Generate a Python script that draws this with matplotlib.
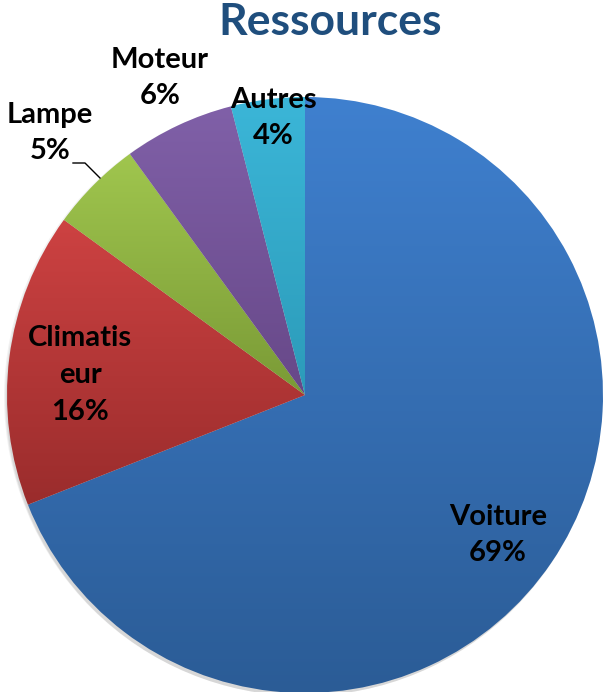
import numpy as np
import matplotlib
matplotlib.use("Agg")
import matplotlib.pyplot as plt
from matplotlib.colors import LinearSegmentedColormap

plt.rcParams['font.family'] = ['Lato', 'DejaVu Sans']

# donnees
labels = ['Voiture', 'Climatiseur', 'Lampe', 'Moteur', 'Autres']
values = [69, 16, 5, 6, 4]
label_text = ['Voiture', 'Climatis\neur', 'Lampe', 'Moteur', 'Autres']
# couleur haut / bas du degrade
top_colors = ['#3f80cf', '#cd4242', '#a0c64e', '#8060a8', '#3bb6d8']
bot_colors = ['#2b5c96', '#9a2c2c', '#7a9a36', '#674888', '#2c9bb9']
# position du texte en pixels
label_pos = [(498, 535), (80, 375), (50, 133), (160, 78), (273, 118)]

W, H = 604, 692
fig = plt.figure(figsize=(W / 100, H / 100), dpi=100)
ax = fig.add_axes([0, 0, 1, 1])


def py(y):
    # pixel (haut=0) -> coordonnee axe
    return H - y


cx, cy, r = 305, py(395), 298

# petite ombre
for k, a in enumerate([0.05, 0.05, 0.06]):
    sh = plt.Circle((cx - 2, cy - 2 - k), r + 1 - k, color='black', alpha=a, lw=0, zorder=0)
    ax.add_patch(sh)

wedges, _ = ax.pie(values, startangle=90, counterclock=False, center=(cx, cy),
                   radius=r, frame=True, wedgeprops=dict(linewidth=0))

grad = np.linspace(0, 1, 256).reshape(-1, 1)
for w, c1, c2 in zip(wedges, top_colors, bot_colors):
    w.set_facecolor('none')
    ext = w.get_path().get_extents()
    cmap = LinearSegmentedColormap.from_list('g', [c1, c2])
    im = ax.imshow(grad, cmap=cmap, aspect='auto', origin='upper',
                   extent=[ext.x0, ext.x1, ext.y0, ext.y1], zorder=1)
    im.set_clip_path(w)

ax.set_xlim(0, W)
ax.set_ylim(0, H)
ax.set_aspect('equal')
ax.axis('off')

for txt, v, (x, y) in zip(label_text, values, label_pos):
    ax.text(x, py(y), f"{txt}\n{v}%", ha='center', va='center', fontsize=21,
            fontweight='bold', color='black', linespacing=1.5, zorder=3)

# trait de rappel pour Lampe
ax.plot([73, 85, 100], [py(163), py(163), py(178)], color='black', lw=1, zorder=3)

ax.text(330, py(22), 'Ressources', ha='center', va='center', fontsize=32,
        fontweight='bold', color='#1f4e7d', zorder=3)

fig.savefig('out.png', dpi=100)
